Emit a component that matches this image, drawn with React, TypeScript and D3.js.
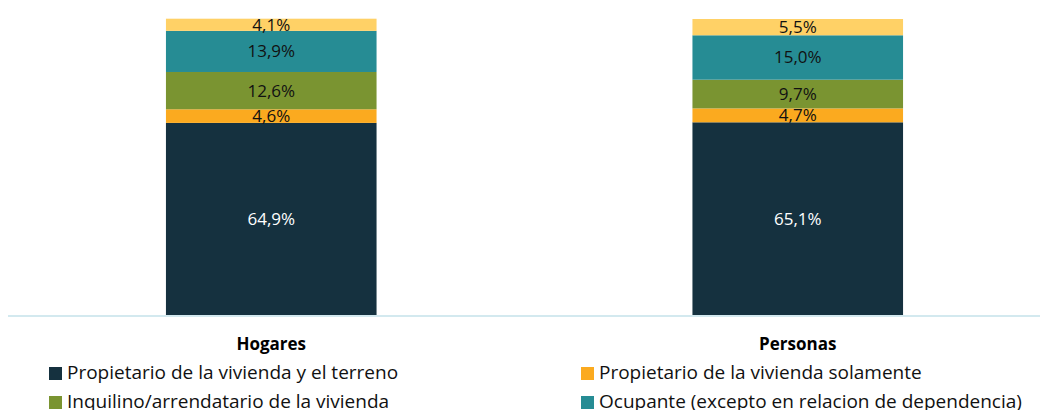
import { useEffect, useRef } from 'react'
import * as d3 from 'd3'

const categories = ['Hogares', 'Personas']
const seriesNames = [
    'Propietario de la vivienda y el terreno',
    'Propietario de la vivienda solamente',
    'Inquilino/arrendatario de la vivienda',
    'Ocupante (excepto en relacion de dependencia)',
    'Otro'
]
const propietarioTerreno = [64.9, 65.1]
const propietarioVivienda = [4.6, 4.7]
const inquilino = [12.6, 9.7]
const ocupante = [13.9, 15.0]
const otro = [4.1, 5.5]

const colors = ['#15313f', '#fbaa1f', '#7a9431', '#268c94', '#ffd166']
const legendOrder = [0, 1, 2, 3]

const width = 1045
const height = 410
const font = "'Open Sans', sans-serif"

export default function App() {
    const svgRef = useRef<SVGSVGElement>(null)

    useEffect(() => {
        if (!svgRef.current) return
        d3.select(svgRef.current).selectAll('*').remove()

        const svg = d3.select(svgRef.current)
            .attr('width', width)
            .attr('height', height)

        const values = [propietarioTerreno, propietarioVivienda, inquilino, ocupante, otro]
        const rows = categories.map((c, i) => {
            const row: any = { cat: c }
            values.forEach((v, k) => { row['s' + k] = v[i] })
            return row
        })
        const keys = values.map((_, k) => 's' + k)
        const stacked = d3.stack().keys(keys)(rows)

        const x = d3.scaleBand()
            .domain(categories)
            .range([8, 1061])
            .paddingInner(0.6)
            .paddingOuter(0.3)

        const y = d3.scaleLinear().domain([0, 100]).range([315, 19])

        // bars
        const layers = svg.append('g').selectAll('g')
            .data(stacked)
            .enter()
            .append('g')
            .attr('fill', (_, k) => colors[k])

        layers.selectAll('rect')
            .data(d => d.map(p => ({ p, cat: (p.data as any).cat })))
            .enter()
            .append('rect')
            .attr('x', d => x(d.cat)!)
            .attr('width', x.bandwidth())
            .attr('y', d => y(d.p[1]))
            .attr('height', d => y(d.p[0]) - y(d.p[1]))

        // value labels
        stacked.forEach((layer, k) => {
            svg.append('g').selectAll('text')
                .data(layer)
                .enter()
                .append('text')
                .attr('x', d => x((d.data as any).cat)! + x.bandwidth() / 2)
                .attr('y', d => (y(d[0]) + y(d[1])) / 2)
                .attr('dy', '0.35em')
                .attr('text-anchor', 'middle')
                .style('font-family', font)
                .style('font-size', '17px')
                .attr('fill', k === 0 ? '#ffffff' : '#111111')
                .text(d => (d[1] - d[0]).toFixed(1).replace('.', ',') + '%')
        })

        // axis line
        svg.append('line')
            .attr('x1', 8).attr('x2', 1040)
            .attr('y1', 316).attr('y2', 316)
            .attr('stroke', '#d3e9ef')
            .attr('stroke-width', 2)

        // category labels
        svg.append('g').selectAll('text')
            .data(categories)
            .enter()
            .append('text')
            .attr('x', d => x(d)! + x.bandwidth() / 2)
            .attr('y', 350)
            .attr('text-anchor', 'middle')
            .style('font-family', font)
            .style('font-size', '17px')
            .style('font-weight', 'bold')
            .attr('fill', '#000')
            .text(d => d)

        // legend
        const legend = svg.append('g')
        const items = legend.selectAll('g')
            .data(legendOrder)
            .enter()
            .append('g')
            .attr('transform', (_, i) => `translate(${i % 2 === 0 ? 49 : 581}, ${i < 2 ? 367 : 396})`)

        items.append('rect')
            .attr('width', 13)
            .attr('height', 13)
            .attr('fill', d => colors[d])

        items.append('text')
            .attr('x', 18)
            .attr('y', 12)
            .style('font-family', font)
            .style('font-size', '19px')
            .attr('fill', '#111')
            .text(d => seriesNames[d])
    }, [])

    return (
        <svg ref={svgRef} style={{ position: 'absolute', left: 0, top: 0, background: '#fff' }}></svg>
    )
}
